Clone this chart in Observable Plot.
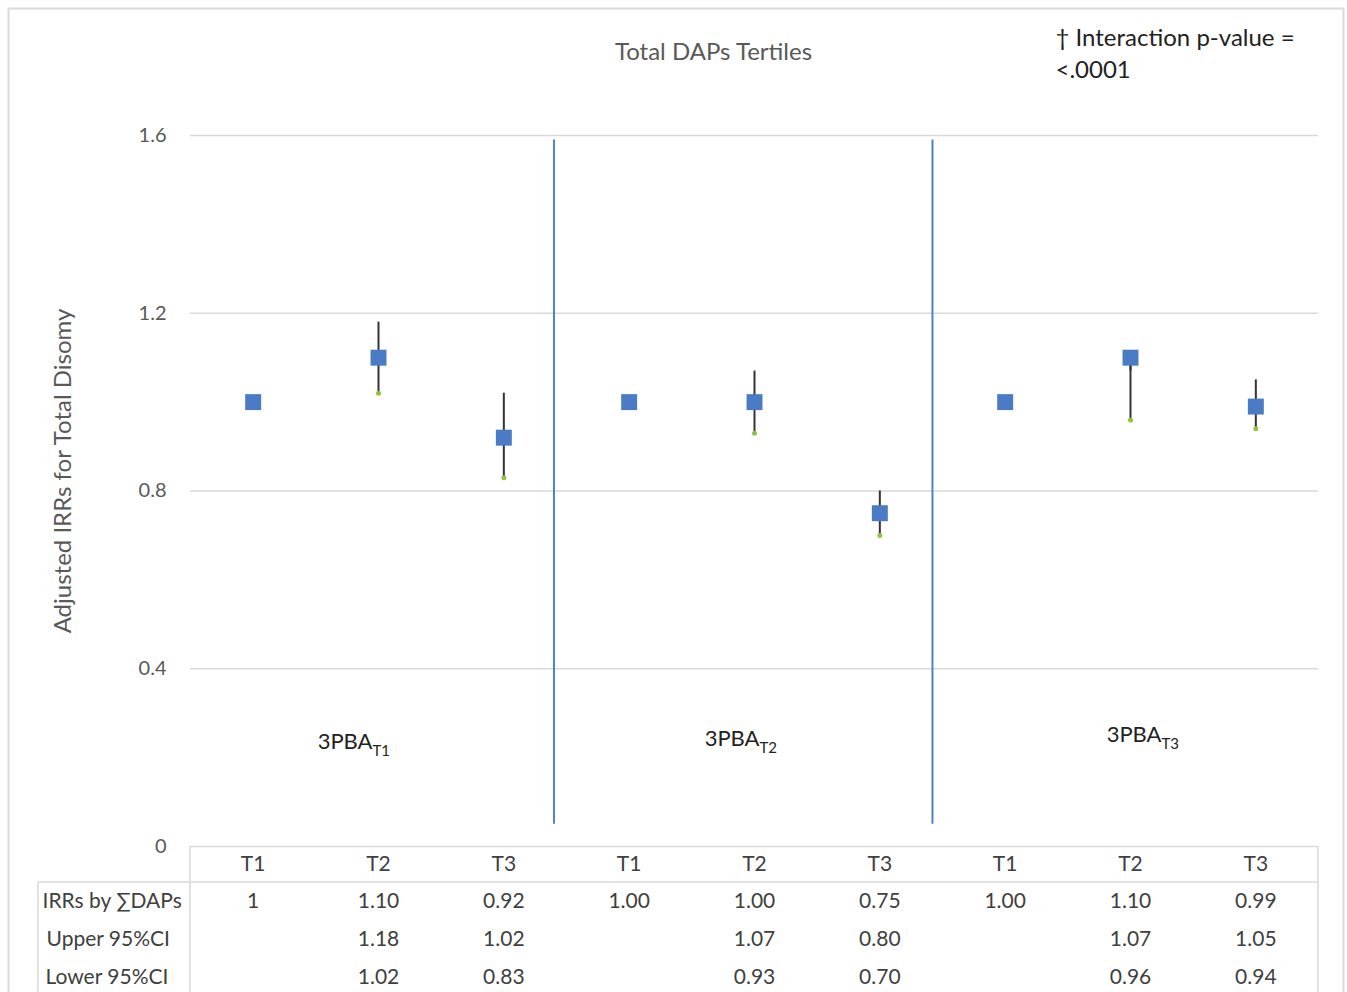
<!DOCTYPE html>
<html><head><meta charset="utf-8">
<script src="https://cdn.jsdelivr.net/npm/d3@7"></script>
<script src="https://cdn.jsdelivr.net/npm/@observablehq/plot@0.6"></script>
<style>body{margin:0;background:#fff}</style>
</head><body><div id="chart"></div>
<script>
// ---- data ----
const tertiles = ["T1","T2","T3","T1","T2","T3","T1","T2","T3"];
const irr = [1.00, 1.10, 0.92, 1.00, 1.00, 0.75, 1.00, 1.10, 0.99];
const irrLabels = ["1","1.10","0.92","1.00","1.00","0.75","1.00","1.10","0.99"];
const upper = [null, 1.18, 1.02, null, 1.07, 0.80, null, 1.07, 1.05];
const lower = [null, 1.02, 0.83, null, 0.93, 0.70, null, 0.96, 0.94];
const yTicks = [0, 0.4, 0.8, 1.2, 1.6];
const gridTicks = [0.4, 0.8, 1.2, 1.6];
const groupNames = ["3PBA","3PBA","3PBA"];
const groupSubs = ["T1","T2","T3"];
const groupCenters = [2, 5, 8];
const separators = [3.40, 6.42];
const rowLabels = ["IRRs by \u2211DAPs", "Upper 95%CI", "Lower 95%CI"];
const title = "Total DAPs Tertiles";
const note = "\u2020 Interaction p-value =\n<.0001";
const yLabel = "Adjusted IRRs for Total Disomy";

const rows = tertiles.map((t, i) => ({i: i + 1, t, irr: irr[i], lab: irrLabels[i], up: upper[i], lo: lower[i]}));
const withCI = rows.filter(d => d.up != null);

const font = "Lato, 'Open Sans', sans-serif";
const grey = "#595959";
const tableColor = "#404040";
const tfs = 21;

const groupLabelMarks = [];
const gdx = [-6, 5, 31], gdy = [0, -3, -7];
groupNames.forEach((g, k) => {
  groupLabelMarks.push(Plot.text([groupCenters[k]], {x: d => d, y: 0.235, text: () => g, textAnchor: "end", dx: gdx[k], dy: gdy[k], fontSize: 22, fill: "#222"}));
  groupLabelMarks.push(Plot.text([groupCenters[k]], {x: d => d, y: 0.235, text: () => groupSubs[k], textAnchor: "start", dx: gdx[k], dy: gdy[k] + 9, fontSize: 15, fill: "#222"}));
});

const tableText = (data, text, dy) => Plot.text(data, {x: "i", frameAnchor: "bottom", lineAnchor: "middle", text, dy, fill: tableColor, fontSize: tfs});
const rowLabel = (t, dx, dy) => Plot.text([t], {frameAnchor: "bottom-left", lineAnchor: "middle", text: d => d, textAnchor: "start", dx, dy, fill: tableColor, fontSize: tfs});

const chart = Plot.plot({
  width: 1347, height: 992,
  marginTop: 135, marginBottom: 146, marginLeft: 190, marginRight: 29,
  style: {fontFamily: font, fontSize: "20px", background: "#fff"},
  x: {domain: [0.5, 9.5], axis: null},
  y: {domain: [0, 1.6]},
  marks: [
    Plot.ruleY(gridTicks, {stroke: "#d9d9d9", strokeWidth: 1.5}),
    Plot.ruleY([0], {stroke: "#d9d9d9", strokeWidth: 1.5}),
    Plot.axisY({ticks: yTicks, tickSize: 0, tickPadding: 24, tickFormat: d => String(d), fill: grey, fontSize: 20, label: null}),
    Plot.text([yLabel], {frameAnchor: "left", textAnchor: "middle", lineAnchor: "middle", text: d => d, rotate: -90, dx: -127, dy: -20, fontSize: 24, fill: grey}),
    Plot.ruleX(separators, {x: d => d, y1: 0.05, y2: 1.59, stroke: "#4f81c7", strokeWidth: 2}),
    Plot.ruleX(withCI, {x: "i", y1: "irr", y2: "up", stroke: "#333", strokeWidth: 2}),
    Plot.ruleX(withCI, {x: "i", y1: "irr", y2: "lo", stroke: "#333", strokeWidth: 2}),
    Plot.dot(withCI, {x: "i", y: "lo", r: 2.5, fill: "#92c13e", stroke: "none"}),
    Plot.dot(rows, {x: "i", y: "irr", symbol: "square", r: 9, fill: "#4a7bc4", stroke: "none"}),
    ...groupLabelMarks,
    Plot.text([title], {frameAnchor: "top", lineAnchor: "middle", text: d => d, dx: -41, dy: -83, fontSize: 24, fill: grey}),
    Plot.text([note], {frameAnchor: "top-right", text: d => d, textAnchor: "start", lineAnchor: "top", dx: -263, dy: -112, lineHeight: 1.33, fontSize: 24, fill: "#222"}),
    // data table
    tableText(rows, "t", 18),
    tableText(rows, "lab", 55),
    tableText(withCI, d => d.up.toFixed(2), 93),
    tableText(withCI, d => d.lo.toFixed(2), 131),
    rowLabel(rowLabels[0], -148, 55),
    rowLabel(rowLabels[1], -144, 93),
    rowLabel(rowLabels[2], -145, 131)
  ]
});

// table borders and chart border (decoration)
const svg = d3.select(chart);
const xs = chart.scale("x"), ys = chart.scale("y");
const L = xs.apply(0.5), R = xs.apply(9.5), B = ys.apply(0);
const g = svg.append("g").attr("stroke", "#d9d9d9").attr("stroke-width", 1.5).attr("fill", "none");
g.append("line").attr("x1", L).attr("x2", L).attr("y1", B).attr("y2", 992);
g.append("line").attr("x1", R).attr("x2", R).attr("y1", B).attr("y2", 992);
g.append("line").attr("x1", 38).attr("x2", R).attr("y1", B + 36).attr("y2", B + 36);
g.append("line").attr("x1", 38).attr("x2", 38).attr("y1", B + 36).attr("y2", 992);
g.append("rect").attr("x", 8.5).attr("y", 8.5).attr("width", 1335).attr("height", 1000).attr("stroke-width", 2);

document.getElementById("chart").appendChild(chart);
</script>
</body></html>
